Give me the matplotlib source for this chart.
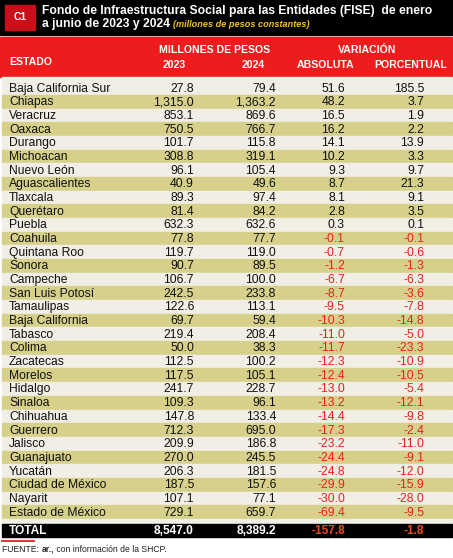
import matplotlib.pyplot as plt
from matplotlib.patches import Rectangle

plt.rcParams['font.family'] = ['Liberation Sans', 'DejaVu Sans']

estados = ['Baja California Sur', 'Chiapas', 'Veracruz', 'Oaxaca', 'Durango',
           'Michoacan', 'Nuevo León', 'Aguascalientes', 'Tlaxcala', 'Querétaro',
           'Puebla', 'Coahuila', 'Quintana Roo', 'Sonora', 'Campeche',
           'San Luis Potosí', 'Tamaulipas', 'Baja California', 'Tabasco', 'Colima',
           'Zacatecas', 'Morelos', 'Hidalgo', 'Sinaloa', 'Chihuahua', 'Guerrero',
           'Jalisco', 'Guanajuato', 'Yucatán', 'Ciudad de México', 'Nayarit',
           'Estado de México']
v2023 = [27.8, 1315.0, 853.1, 750.5, 101.7, 308.8, 96.1, 40.9, 89.3, 81.4,
         632.3, 77.8, 119.7, 90.7, 106.7, 242.5, 122.6, 69.7, 219.4, 50.0,
         112.5, 117.5, 241.7, 109.3, 147.8, 712.3, 209.9, 270.0, 206.3, 187.5,
         107.1, 729.1]
v2024 = [79.4, 1363.2, 869.6, 766.7, 115.8, 319.1, 105.4, 49.6, 97.4, 84.2,
         632.6, 77.7, 119.0, 89.5, 100.0, 233.8, 113.1, 59.4, 208.4, 38.3,
         100.2, 105.1, 228.7, 96.1, 133.4, 695.0, 186.8, 245.5, 181.5, 157.6,
         77.1, 659.7]
absoluta = [51.6, 48.2, 16.5, 16.2, 14.1, 10.2, 9.3, 8.7, 8.1, 2.8,
            0.3, -0.1, -0.7, -1.2, -6.7, -8.7, -9.5, -10.3, -11.0, -11.7,
            -12.3, -12.4, -13.0, -13.2, -14.4, -17.3, -23.2, -24.4, -24.8, -29.9,
            -30.0, -69.4]
porcentual = [185.5, 3.7, 1.9, 2.2, 13.9, 3.3, 9.7, 21.3, 9.1, 3.5,
              0.1, -0.1, -0.6, -1.3, -6.3, -3.6, -7.8, -14.8, -5.0, -23.3,
              -10.9, -10.5, -5.4, -12.1, -9.8, -2.4, -11.0, -9.1, -12.0, -15.9,
              -28.0, -9.5]
total = [8547.0, 8389.2, -157.8, -1.8]

RED = '#EE1C1C'
DARKRED = '#C8101A'
OLIVE = '#D7D08A'
LIGHT = '#F1EEE6'
NEG = '#E8211E'

W, H = 453, 558
fig = plt.figure(figsize=(W / 100, H / 100), dpi=100)
ax = fig.add_axes([0, 0, 1, 1])
ax.set_xlim(0, W)
ax.set_ylim(H, 0)
ax.axis('off')
rend = fig.canvas.get_renderer()

# title block
ax.add_patch(Rectangle((0, 0), 452, 35, color='black'))
ax.add_patch(Rectangle((5, 5), 30, 25, color=DARKRED))
ax.text(20, 17.5, 'C1', color='white', fontsize=7.5, fontweight='bold',
        ha='center', va='center')
t1 = ax.text(42, 11, 'Fondo de Infraestructura Social para las Entidades (FISE)  de enero',
             color='white', fontsize=9.6, fontweight='bold', va='center')
# shrink the title so it ends where the reference line ends
w = t1.get_window_extent(rend).width
fs = 9.6 * 390 / w
t1.set_fontsize(fs)
t = ax.text(42, 24, 'a junio de 2023 y 2024 ', color='white', fontsize=fs,
            fontweight='bold', va='center')
ax.annotate('(millones de pesos constantes)', xycoords=t, xy=(1, 0.45),
            va='center', color='#F2C21B', fontsize=6.6, fontweight='bold',
            style='italic')

# header
ax.add_patch(Rectangle((0, 37), 452, 40, color=RED))
hk = dict(color='white', fontsize=7.6, fontweight='bold', va='center')
ax.text(9, 62, 'ESTADO', ha='left', **hk)
ax.text(215, 50, 'MILLONES DE PESOS', ha='center', **hk)
ax.text(174, 65, '2023', ha='center', **hk)
ax.text(253, 65, '2024', ha='center', **hk)
ax.text(367, 50, 'VARIACIÓN', ha='center', **hk)
ax.text(326, 65, 'ABSOLUTA', ha='center', **hk)
ax.text(411, 65, 'PORCENTUAL', ha='center', **hk)

# rows
y0, rh = 81.2, 13.68
cols = [194, 276, 345, 424]
ax.add_patch(Rectangle((2, 77), 450, y0 - 77, color=LIGHT))
for i, name in enumerate(estados):
    top = y0 + i * rh
    ax.add_patch(Rectangle((2, top), 450, rh, color=OLIVE if i % 2 else LIGHT))
    yc = top + rh / 2 + 0.5
    ax.text(9, yc, name, fontsize=8.7, va='center', color='#111111')
    vals = [v2023[i], v2024[i], absoluta[i], porcentual[i]]
    for j, v in enumerate(vals):
        c = NEG if v < 0 else '#111111'
        ax.text(cols[j], yc, f'{v:,.1f}', fontsize=8.7, va='center', ha='right', color=c)
ax.add_patch(Rectangle((2, y0 + len(estados) * rh), 450, 4, color=LIGHT))

# total row
ax.add_patch(Rectangle((2, 524), 450, 13, color='black'))
ax.text(9, 531, 'TOTAL', fontsize=8.6, fontweight='bold', color='white', va='center')
for j, v in enumerate(total):
    c = '#EE4A1E' if v < 0 else 'white'
    ax.text(cols[j], 531, f'{v:,.1f}', fontsize=8.6, fontweight='bold', va='center',
            ha='right', color=c)

ax.plot([2, 34], [540.5, 540.5], color=RED, lw=1.3)
f = ax.text(2, 549, 'FUENTE: ', fontsize=6.2, color='#222222', va='center')
f2 = ax.annotate('ar.,', xycoords=f, xy=(1, 0.5), va='center', fontsize=6.2,
                 fontweight='bold', color='#222222')
ax.annotate(' con información de la SHCP.', xycoords=f2, xy=(1, 0.5), va='center',
            fontsize=6.2, color='#222222')

fig.savefig('out.png', dpi=100)
